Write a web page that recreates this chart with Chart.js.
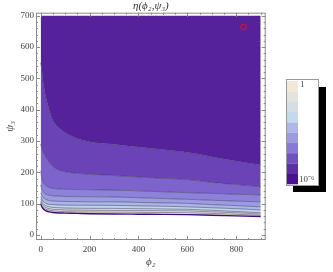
<!DOCTYPE html>
<html lang="en">
<head>
    <meta charset="UTF-8">
    <title>eta(phi2, psi3) contour</title>
    <script src="https://cdn.jsdelivr.net/npm/chart.js"></script>
    <style>
        body { margin: 0; background: #fff; }
        #wrap { width: 333px; height: 272px; }
    </style>
</head>
<body>
    <div id="wrap"><canvas id="chart" width="333" height="272"></canvas></div>

    <script>
        // phi2 sample positions shared by every contour line
        const phi2 = [0, 5, 10, 20, 35, 50, 75, 100, 150, 200, 300, 400, 500, 600, 700, 800, 900];

        // psi3 of each contour line, top (10^-6 side) to bottom (1 side)
        const level1 = [550, 527, 490, 445, 400, 366, 342, 327, 308, 298, 290, 281, 273, 264, 250, 236, 224];
        const level2 = [290, 275, 265, 250, 232, 219, 207, 202, 197, 194, 190, 185, 181, 177, 168, 161, 154];
        const level3 = [205, 180, 168, 158, 152, 149, 147, 146, 145, 144.5, 143.5, 141, 138, 135, 133, 130, 128];
        const level4 = [160, 146, 138, 131, 127, 125, 124, 123, 122.5, 122, 121.5, 119, 116.5, 114, 111, 108, 106];
        const level5 = [135, 126, 120, 114, 110, 108.5, 107.5, 107, 106.5, 106, 106, 104, 102.5, 101, 97, 94, 90];
        const level6 = [122, 114, 108, 102, 98, 97, 96, 95.5, 95, 95, 94.5, 93, 92, 90, 87, 84, 80];
        const level7 = [114, 106, 100, 94, 90, 88, 87, 86, 85.5, 85, 85, 84, 83, 82, 79, 75, 71];
        const level8 = [108, 100, 94, 88, 84, 82, 81, 80, 79.5, 79, 78.5, 78, 77.5, 77, 74, 71, 67];
        const level9 = [104, 95, 89, 83, 79, 77, 75.5, 75, 74, 73.5, 73, 72.5, 72, 71, 69, 66, 63];
        const lowerEdge = [100, 90, 84, 78, 74, 72, 70.5, 70, 69, 68, 67, 66.5, 66, 65, 63, 61, 59];

        // marked point (red circle)
        const markerPoint = [{ x: 830, y: 664 }];

        const xTicks = [0, 200, 400, 600, 800];
        const yTicks = [0, 100, 200, 300, 400, 500, 600, 700];
        const legendLabels = ['1', '10\u207B\u2076'];

        // band colours, darkest (top of plot) to lightest (bottom)
        const bandColors = ['#55229c', '#6a44b6', '#7d64cc', '#8d82da', '#9c9ce2',
                            '#adb6e8', '#c0d3ed', '#d3dde4', '#e3e3dc', '#f1e8d6'];
        const legendColors = ['#4b1190', '#5e2ea5', '#7150bf', '#8a78d8', '#9d9ae2',
                              '#afb7e8', '#c3d9ee', '#d4dee4', '#e3e4dc', '#f2e8d5'];

        const levels = [level1, level2, level3, level4, level5, level6, level7, level8, level9, lowerEdge];

        function toPoints(ys) {
            return phi2.map((x, i) => ({ x: x, y: ys[i] }));
        }

        const datasets = levels.map((ys, i) => ({
            data: toPoints(ys),
            fill: i === 0 ? { value: 700 } : '-1',
            backgroundColor: bandColors[i],
            borderColor: i === levels.length - 1 ? '#3c0c85' : 'rgba(60, 55, 90, 0.75)',
            borderWidth: i === levels.length - 1 ? 1.4 : 0.7,
            pointRadius: 0,
            cubicInterpolationMode: 'monotone'
        }));

        datasets.push({
            type: 'scatter',
            data: markerPoint,
            order: -1,
            pointRadius: 2.6,
            pointBorderWidth: 1.3,
            pointBorderColor: '#cc1030',
            pointBackgroundColor: 'rgba(0,0,0,0)',
            showLine: false,
            fill: false
        });

        // frame with inward ticks + bar legend
        const framePlugin = {
            id: 'frame',
            afterDraw(chart) {
                const ctx = chart.ctx;
                const a = chart.chartArea;
                const xs = chart.scales.x, ys = chart.scales.y;
                ctx.save();
                ctx.strokeStyle = '#8a8a8a';
                ctx.lineWidth = 1;
                ctx.strokeRect(a.left + 0.5, a.top + 0.5, a.right - a.left - 1, a.bottom - a.top - 1);
                ctx.beginPath();
                for (let v = 0; v <= 900; v += 50) {
                    const px = Math.round(xs.getPixelForValue(v)) + 0.5;
                    const len = v % 200 === 0 ? 4 : 2;
                    ctx.moveTo(px, a.bottom); ctx.lineTo(px, a.bottom - len);
                    ctx.moveTo(px, a.top); ctx.lineTo(px, a.top + len);
                }
                for (let v = 0; v <= 700; v += 20) {
                    const py = Math.round(ys.getPixelForValue(v)) + 0.5;
                    const len = v % 100 === 0 ? 4 : 2;
                    ctx.moveTo(a.left, py); ctx.lineTo(a.left + len, py);
                    ctx.moveTo(a.right, py); ctx.lineTo(a.right - len, py);
                }
                ctx.stroke();

                // legend
                ctx.fillStyle = '#000';
                ctx.fillRect(293, 87, 33, 105);
                ctx.fillStyle = '#fff';
                ctx.fillRect(286, 79, 33, 107);
                ctx.strokeStyle = '#999';
                ctx.strokeRect(286.5, 79.5, 32, 106);
                const barTop = 81, barBottom = 184, n = legendColors.length;
                const h = (barBottom - barTop) / n;
                legendColors.forEach((c, i) => {
                    ctx.fillStyle = c;
                    ctx.fillRect(287, barBottom - (i + 1) * h, 11, h + 0.3);
                });
                ctx.fillStyle = '#444';
                ctx.font = '9px "Liberation Serif"';
                ctx.textBaseline = 'middle';
                ctx.fillText(legendLabels[0], 300, 85);
                ctx.fillText(legendLabels[1], 299, 180);
                ctx.restore();
            }
        };

        const serif = '"Liberation Serif", "DejaVu Serif", serif';

        new Chart(document.getElementById('chart'), {
            type: 'line',
            data: { datasets: datasets },
            options: {
                responsive: false,
                animation: false,
                events: [],
                layout: { padding: { left: 0, top: 0, right: 67.3, bottom: 0 } },
                plugins: {
                    legend: { display: false },
                    tooltip: { enabled: false },
                    title: {
                        display: true,
                        text: '\u03B7(\u03D5\u2082,\u03C8\u2083)',
                        fullSize: false,
                        color: '#333',
                        font: { family: serif, size: 11, style: 'italic', weight: 'normal', lineHeight: 1.155 },
                        padding: 0
                    },
                    filler: { propagate: false }
                },
                scales: {
                    x: {
                        type: 'linear',
                        min: -19.2,
                        max: 920.5,
                        grid: { display: false, drawTicks: false },
                        border: { display: false },
                        afterFit(scale) { scale.height = 32; },
                        afterBuildTicks(scale) { scale.ticks = xTicks.map(v => ({ value: v })); },
                        ticks: { color: '#444', padding: 4, font: { family: serif, size: 9 }, maxRotation: 0 },
                        title: {
                            display: true,
                            text: '\u03D5\u2082',
                            color: '#444',
                            font: { family: serif, size: 11, style: 'italic' },
                            padding: { top: 0, bottom: 3.5 }
                        }
                    },
                    y: {
                        type: 'linear',
                        min: -15.9,
                        max: 709.6,
                        grid: { display: false, drawTicks: false },
                        border: { display: false },
                        afterFit(scale) { scale.width = 36; },
                        afterBuildTicks(scale) { scale.ticks = yTicks.map(v => ({ value: v })); },
                        ticks: { color: '#444', padding: 2, font: { family: serif, size: 9 } },
                        title: {
                            display: true,
                            text: '\u03C8\u2083',
                            color: '#444',
                            font: { family: serif, size: 11, style: 'italic' },
                            padding: { top: 3.4, bottom: 0 }
                        }
                    }
                }
            },
            plugins: [framePlugin]
        });
    </script>
</body>
</html>
